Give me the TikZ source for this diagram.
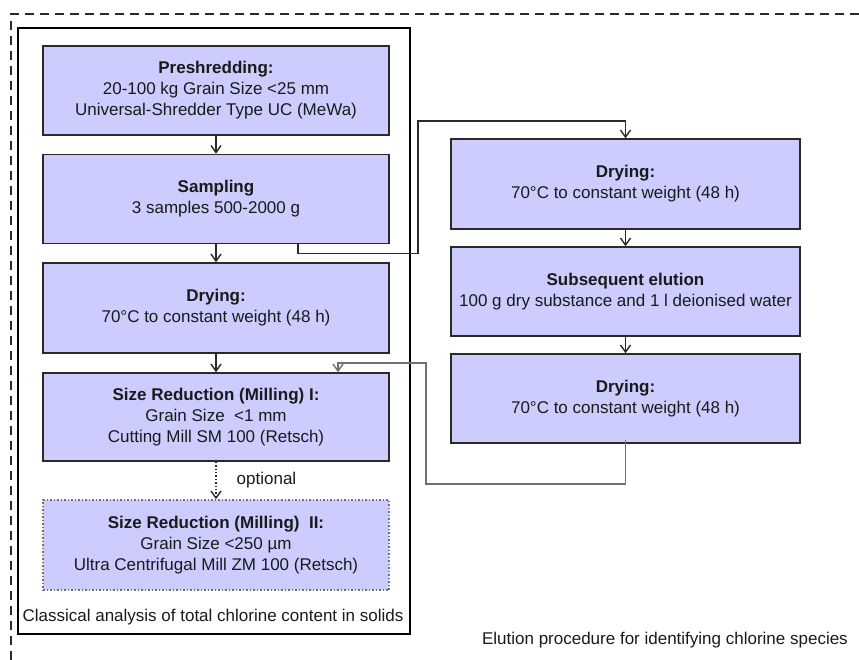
\documentclass[tikz,border=0pt]{standalone}
\usepackage{fontspec}
\setmainfont{Liberation Sans}
\usetikzlibrary{arrows.meta}
\definecolor{boxfill}{HTML}{CCCCFF}
\definecolor{txt}{HTML}{1A1A1A}
\definecolor{edge}{HTML}{2A2A2A}
\definecolor{ret}{HTML}{707070}
\begin{document}
\begin{tikzpicture}[x=1pt,y=-1pt,
  stepbox/.style={draw=edge,line width=1.5pt,fill=boxfill,minimum width=346pt,minimum height=89pt,
    align=center,text=txt,font=\fontsize{17}{21}\selectfont,inner sep=0pt},
  rbox/.style={stepbox,minimum width=349pt},
  arr/.style={draw=edge,line width=1.4pt,-{Straight Barb[length=7pt,width=10pt]}},
  lbl/.style={text=txt,font=\fontsize{17}{20}\selectfont,inner sep=0pt}]
\useasboundingbox (0,0) rectangle (859,660);
% outer dashed frame
\draw[line width=2.2pt,dash pattern=on 9pt off 6pt,edge] (11,660) -- (11,14) -- (859,14);
% inner solid frame
\draw[line width=2.2pt,black] (18,28) rectangle (410,634);
% left column
\node[stepbox] (pre) at (216,90.5) {\textbf{Preshredding:}\\20-100 kg Grain Size <25 mm\\Universal-Shredder Type UC (MeWa)};
\node[stepbox] (samp) at (216,199) {\textbf{Sampling}\\3 samples 500-2000 g};
\node[stepbox,minimum height=90pt] (dry1) at (216,308) {\textbf{Drying:}\\70°C to constant weight (48 h)};
\node[stepbox,minimum height=88pt] (sr1) at (216,417) {\textbf{Size Reduction (Milling) I:}\\Grain Size\ \ <1 mm\\Cutting Mill SM 100 (Retsch)};
\node[stepbox,draw=ret,dotted,minimum height=90pt] (sr2) at (216,545) {\textbf{Size Reduction (Milling)\ \ II:}\\Grain Size <250 µm\\Ultra Centrifugal Mill ZM 100 (Retsch)};
\node[lbl] (cap1) at (213,617) {Classical analysis of total chlorine content in solids};
% right column
\node[rbox,minimum height=90pt] (d2) at (625.5,184) {\textbf{Drying:}\\70°C to constant weight (48 h)};
\node[rbox] (elu) at (625.5,291.5) {\textbf{Subsequent elution}\\100 g dry substance and 1 l deionised water};
\node[rbox] (d3) at (625.5,398.5) {\textbf{Drying:}\\70°C to constant weight (48 h)};
\node[lbl,anchor=east] (cap2) at (848,640) {Elution procedure for identifying chlorine species};
% arrows
\draw[arr] (pre) -- (samp);
\draw[arr] (samp) -- (dry1);
\draw[arr] (dry1) -- (sr1);
\draw[arr,dotted] (sr1) -- (sr2) node[midway,right=20pt,lbl] (opt) {optional};
\draw[arr] (d2) -- (elu);
\draw[arr] (elu) -- (d3);
\draw[arr] ([xshift=82pt]samp.south) -- ++(0,9) -| (418,121) -| (d2.north);
\coordinate (rt) at (426,363);
\draw[arr,draw=ret] ([yshift=4pt]d3.south) |- (426,484) -- (rt) -| ([xshift=122pt]sr1.north);
\end{tikzpicture}
\end{document}
